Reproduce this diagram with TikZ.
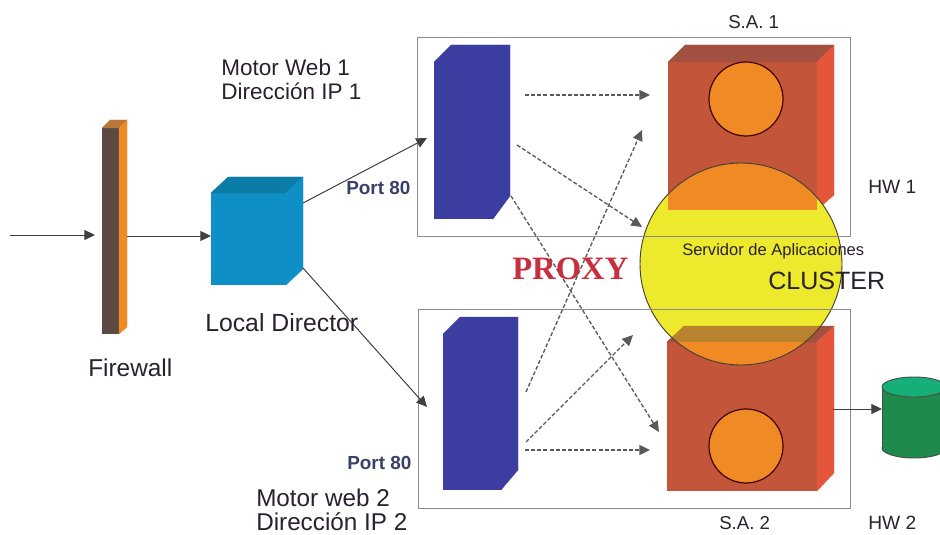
\documentclass[tikz,border=0pt]{standalone}
\usepackage{fontspec}
\setmainfont{Liberation Sans}
\newfontfamily\proxyfont{Liberation Serif}
\usetikzlibrary{arrows.meta}

\definecolor{framegray}{HTML}{8C8C8C}
\definecolor{labelink}{HTML}{2A2030}
\definecolor{portink}{HTML}{3A3F68}
\definecolor{redfront}{HTML}{C2553A}
\definecolor{redtop}{HTML}{A2503F}
\definecolor{redside}{HTML}{E4553A}
\definecolor{orangefill}{HTML}{F08A24}
\definecolor{clustertop}{HTML}{B9822F}
\definecolor{clusteryellow}{HTML}{EDEA2E}
\definecolor{bluefront}{HTML}{0E90C6}
\definecolor{bluetop}{HTML}{0A7CA6}
\definecolor{motorblue}{HTML}{3B3DA0}
\definecolor{wallfront}{HTML}{5A4A42}
\definecolor{walltop}{HTML}{B9763A}
\definecolor{dbbody}{HTML}{1E8A4C}
\definecolor{dbend}{HTML}{14B078}
\definecolor{proxyred}{HTML}{C8303F}

\tikzset{
    frontface/.style={rectangle, inner sep=0, outer sep=0},
    frame/.style={draw=framegray, line width=.7pt},
    flow/.style={-{Triangle[length=8pt,width=7.5pt]}, draw=black!75, line width=.75pt},
    dashflow/.style={flow, dash pattern=on 3pt off 1.6pt, draw=black!65, line width=1pt},
    dbline/.style={draw=black!70, line width=.7pt},
    lbl/.style={inner sep=0, text=labelink, font=\fontsize{#1}{18pt}\selectfont, align=left},
    portlbl/.style={inner sep=0, text=portink, font=\fontsize{14.2}{18pt}\selectfont\bfseries},
}

% top and side of a block whose front is the node #1
\newcommand{\blockfaces}[6]{%
    \path[fill=#5, draw=#5, line width=.2pt] (#1.north west) -- ++(#2,-#3) -- ([shift={(#2,-#3)}]#1.north east) -- (#1.north east) -- cycle;
    \path[fill=#6, draw=#6, line width=.2pt] (#1.north east) -- ++(#2,-#3) -- ([shift={(#2,-#4)}]#1.south east) -- (#1.south east) -- cycle;
}

\begin{document}
\begin{tikzpicture}[x=.75pt, y=-.75pt]
    \useasboundingbox (0,0) rectangle (940,535);

    % front faces
    \node (firewall) at (110.5,231) [frontface, fill=wallfront, minimum width=17*.75pt, minimum height=206*.75pt] {};
    \node (director) at (248.5,239) [frontface, fill=bluefront, minimum width=75*.75pt, minimum height=92*.75pt] {};
    \node (motor1) at (463.5,140.5) [frontface, fill=motorblue, minimum width=59*.75pt, minimum height=157*.75pt] {};
    \node (motor2) at (472,412) [frontface, fill=motorblue, minimum width=58*.75pt, minimum height=156*.75pt] {};
    \node (hw1) at (742.5,136) [frontface, fill=redfront, minimum width=149*.75pt, minimum height=148*.75pt] {};
    \node (hw2) at (742,416.5) [frontface, fill=redfront, minimum width=150*.75pt, minimum height=149*.75pt] {};

    \blockfaces{firewall}{8}{8}{7}{walltop}{orangefill}
    \blockfaces{director}{17}{16}{16}{bluetop}{bluefront}
    \blockfaces{motor1}{17}{17}{23}{motorblue}{motorblue}
    \blockfaces{motor2}{17}{17}{20}{motorblue}{motorblue}
    \blockfaces{hw1}{17}{17}{15}{redtop}{redside}
    \blockfaces{hw2}{17}{16}{18}{redtop}{redside}

    \node (sa1) at (746,99) [circle, draw=black!75!red, line width=.9pt, fill=orangefill, inner sep=0, minimum size=74*.75pt] {};
    \node (sa2) at (746,446) [circle, draw=black!75!red, line width=.9pt, fill=orangefill, inner sep=0, minimum size=74*.75pt] {};

    % cluster circle over both blocks
    \node (cluster) at (741,264) [circle, fill=clusteryellow, inner sep=0, outer sep=0, minimum size=202*.75pt] {};
    \begin{scope}
        \clip (cluster.center) circle [radius=101];
        \fill[orangefill] (hw1.north west) rectangle (hw1.south east);
        \blockfaces{hw2}{17}{16}{18}{clustertop}{orangefill}
        \fill[orangefill] (hw2.north west) rectangle (hw2.south east);
    \end{scope}
    \draw[black!70!olive, line width=.7pt] (cluster.center) circle [radius=101];

    \node (frame1) at (633.5,136.5) [frontface, frame, minimum width=433*.75pt, minimum height=199*.75pt] {};
    \node (frame2) at (634,408.5) [frontface, frame, minimum width=432*.75pt, minimum height=199*.75pt] {};

    % database
    \draw[dbline, fill=dbbody] (914,448) ellipse [x radius=32, y radius=10];
    \node (db) at (914,417.5) [frontface, fill=dbbody, minimum width=64*.75pt, minimum height=61*.75pt] {};
    \draw[dbline] (db.north west) -- (db.south west);
    \draw[dbline] (db.north east) -- (db.south east);
    \draw[dbline, fill=dbend] (db.north) ellipse [x radius=32, y radius=10];

    % free ends of the connectors
    \coordinate (inlet) at (10,235);
    \coordinate (wallout) at (127,236);
    \coordinate (dirup) at (303,203);
    \coordinate (dirdown) at (303,268);
    \coordinate (motor1in) at (427,138);
    \coordinate (motor2in) at (427,407);
    \coordinate (m1a) at (525,95);
    \coordinate (m1b) at (517,145);
    \coordinate (m1c) at (511,196);
    \coordinate (m2a) at (526,392);
    \coordinate (m2b) at (526,442);
    \coordinate (m2c) at (525,450);
    \coordinate (hw1a) at (650,95);
    \coordinate (hw1b) at (642,227);
    \coordinate (hw1c) at (642,130);
    \coordinate (hw2a) at (659,432);
    \coordinate (hw2b) at (633,335);
    \coordinate (hw2c) at (650,450);
    \coordinate (hwout) at (833,409);

    \draw[flow, shorten >=7*.75pt] (inlet) -- (inlet -| firewall.west);
    \draw[flow] (wallout) -- (wallout -| director.west);
    \draw[flow] (dirup) -- (motor1in);
    \draw[flow] (dirdown) -- (motor2in);
    \draw[flow] (hwout) -- (hwout -| db.west);

    \draw[dashflow] (m1a) -- (hw1a);
    \draw[dashflow] (m1b) -- (hw1b);
    \draw[dashflow] (m1c) -- (hw2a);
    \draw[dashflow] (m2a) -- (hw1c);
    \draw[dashflow] (m2b) -- (hw2b);
    \draw[dashflow] (m2c) -- (hw2c);

    % labels
    \node (mw1) at (221,79) [lbl=16.9, anchor=west] {Motor Web 1\\Dirección IP 1};
    \node (mw2) at (256,510) [lbl=18.2, anchor=west] {Motor web 2\\Dirección IP 2};
    \node (port1) at (346,188) [portlbl, anchor=west] {Port 80};
    \node (port2) at (347,463) [portlbl, anchor=west] {Port 80};
    \node (dirlbl) at (205,323) [lbl=18.6, anchor=west] {Local Director};
    \node (fwlbl) at (88,368) [lbl=18.3, anchor=west] {Firewall};
    \node (salbl1) at (728,22) [lbl=14, anchor=west] {S.A. 1};
    \node (salbl2) at (719,523) [lbl=14, anchor=west] {S.A. 2};
    \node (hwlbl1) at (868,187) [lbl=14.4, anchor=west] {HW 1};
    \node (hwlbl2) at (868,523) [lbl=14.4, anchor=west] {HW 2};
    \node (applbl) at (682,251) [lbl=12.4, anchor=west] {Servidor de Aplicaciones};
    \node (clusterlbl) at (768,281) [lbl=18.8, anchor=west] {CLUSTER};
    \node (proxylbl) at (512,269) [inner sep=0, anchor=west, text=proxyred, font=\fontsize{24.5}{26pt}\selectfont\proxyfont\bfseries] {PROXY};
\end{tikzpicture}
\end{document}
